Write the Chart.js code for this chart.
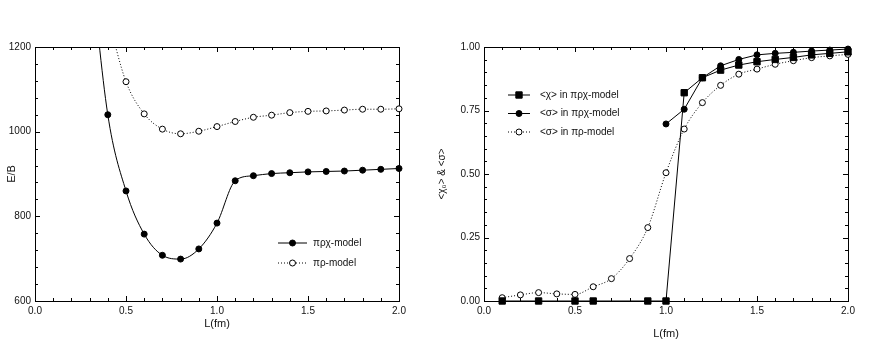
<!DOCTYPE html>
<html>
<head>
<meta charset="utf-8">
<script src="https://cdn.jsdelivr.net/npm/chart.js@4.4.0/dist/chart.umd.min.js"></script>
<style>
    html, body { margin: 0; padding: 0; background: #fff; }
    #wrap { position: relative; width: 872px; height: 345px; }
    #energyChart { position: absolute; left: 0; top: 0; }
    #condChart { position: absolute; left: 436px; top: 0; }
</style>
</head>
<body>
<div id="wrap">
    <canvas id="energyChart" width="436" height="345"></canvas>
    <canvas id="condChart" width="436" height="345"></canvas>
</div>
<script>
// ---- left panel: E/B vs L ----
const L_PRCHI = [0.3, 0.4, 0.5, 0.6, 0.7, 0.8, 0.9, 1.0, 1.1, 1.2, 1.3, 1.4, 1.5, 1.6, 1.7, 1.8, 1.9, 2.0];
const E_PRCHI = [1420, 1040, 860, 758, 708, 699, 723, 784, 884, 896, 901, 903, 905, 906, 907, 909, 911, 913];
const L_PR = [0.4, 0.5, 0.6, 0.7, 0.8, 0.9, 1.0, 1.1, 1.2, 1.3, 1.4, 1.5, 1.6, 1.7, 1.8, 1.9, 2.0];
const E_PR = [1270, 1118, 1042, 1006, 995, 1001, 1012, 1024, 1034, 1039, 1045, 1048, 1049, 1051, 1053, 1053, 1054];

// ---- right panel: condensates vs L ----
const L_CHI = [0.1, 0.3, 0.5, 0.6, 0.9, 1.0, 1.1, 1.2, 1.3, 1.4, 1.5, 1.6, 1.7, 1.8, 1.9, 2.0];
const CHI = [0, 0, 0, 0, 0, 0, 0.82, 0.879, 0.909, 0.929, 0.942, 0.951, 0.959, 0.969, 0.975, 0.981];
const L_SIG = [1.0, 1.1, 1.2, 1.3, 1.4, 1.5, 1.6, 1.7, 1.8, 1.9, 2.0];
const SIG = [0.697, 0.755, 0.879, 0.926, 0.951, 0.969, 0.975, 0.979, 0.984, 0.988, 0.992];
const L_SIG_PR = [0.1, 0.2, 0.3, 0.4, 0.5, 0.6, 0.7, 0.8, 0.9, 1.0, 1.1, 1.2, 1.3, 1.4, 1.5, 1.6, 1.7, 1.8, 1.9, 2.0];
const SIG_PR = [0.013, 0.024, 0.033, 0.028, 0.026, 0.056, 0.088, 0.167, 0.289, 0.505, 0.677, 0.781, 0.849, 0.893, 0.913, 0.932, 0.946, 0.958, 0.965, 0.971];

const X_TICKS = ['0.0', '0.5', '1.0', '1.5', '2.0'];
const E_TICKS = ['600', '800', '1000', '1200'];
const C_TICKS = ['0.00', '0.25', '0.50', '0.75', '1.00'];

Chart.defaults.font.family = '"Liberation Sans", Arial, sans-serif';
Chart.defaults.font.size = 10;
Chart.defaults.color = '#111';
Chart.defaults.animation = false;

function pts(xs, ys) {
    return xs.map((x, i) => ({ x: x, y: ys[i] }));
}

function onStep(v, step) {
    const q = v / step;
    return Math.abs(q - Math.round(q)) < 1e-6;
}

// box round the plot area, with small ticks pointing inwards on every side
const frameTicks = {
    id: 'frameTicks',
    beforeDatasetsDraw(chart, args, opts) {
        const { ctx, chartArea: a, scales: { x, y } } = chart;
        ctx.save();
        ctx.lineWidth = 1;
        ctx.strokeStyle = '#000';
        ctx.strokeRect(a.left + 0.5, a.top + 0.5, a.right - a.left, a.bottom - a.top);
        ctx.beginPath();
        x.ticks.forEach(t => {
            const px = Math.round(x.getPixelForValue(t.value)) + 0.5;
            const len = onStep(t.value, opts.xMajor) ? 5 : 3;
            ctx.moveTo(px, a.bottom); ctx.lineTo(px, a.bottom - len);
            ctx.moveTo(px, a.top); ctx.lineTo(px, a.top + len);
        });
        y.ticks.forEach(t => {
            const py = Math.round(y.getPixelForValue(t.value)) + 0.5;
            const len = onStep(t.value, opts.yMajor) ? 5 : 3;
            ctx.moveTo(a.left, py); ctx.lineTo(a.left + len, py);
            ctx.moveTo(a.right, py); ctx.lineTo(a.right - len, py);
        });
        ctx.stroke();
        ctx.restore();
    }
};

// legend drawn inside the plot: line sample with its marker, then the label
const lineLegend = {
    id: 'lineLegend',
    afterDraw(chart, args, opts) {
        const ctx = chart.ctx;
        ctx.save();
        chart.data.datasets.forEach((ds, i) => {
            const yy = opts.y + i * opts.gap;
            ctx.beginPath();
            ctx.setLineDash(ds.borderDash || []);
            ctx.strokeStyle = ds.borderColor;
            ctx.lineWidth = ds.borderWidth;
            ctx.moveTo(opts.x, yy);
            ctx.lineTo(opts.x + opts.lineLength, yy);
            ctx.stroke();
            ctx.setLineDash([]);
            ctx.fillStyle = ds.pointBackgroundColor;
            ctx.strokeStyle = ds.pointBorderColor;
            ctx.lineWidth = 1;
            Chart.helpers.drawPoint(ctx, {
                pointStyle: ds.pointStyle,
                radius: ds.pointRadius,
                rotation: 0,
                borderWidth: 1
            }, opts.x + opts.lineLength / 2, yy);
            ctx.fillStyle = '#111';
            ctx.font = '10px "Liberation Sans", Arial, sans-serif';
            ctx.textBaseline = 'middle';
            ctx.fillText(ds.label, opts.x + opts.textOffset, yy);
        });
        ctx.restore();
    }
};

function xScale(titlePad) {
    return {
        type: 'linear',
        min: 0,
        max: 2,
        grid: { display: false, drawTicks: false },
        border: { display: false },
        ticks: {
            stepSize: 0.1,
            autoSkip: false,
            maxRotation: 0,
            padding: 4,
            callback: v => onStep(v, 0.5) ? X_TICKS[Math.round(v / 0.5)] : ''
        },
        title: { display: true, text: 'L(fm)', padding: { top: 0, bottom: titlePad }, font: { size: 11 } },
        afterFit: s => { s.height = 44; }
    };
}

new Chart(document.getElementById('energyChart'), {
    type: 'line',
    data: {
        datasets: [{
            label: 'πρχ-model',
            data: pts(L_PRCHI, E_PRCHI),
            borderColor: '#000',
            borderWidth: 1,
            cubicInterpolationMode: 'monotone',
            pointStyle: 'circle',
            pointRadius: 3,
            pointBackgroundColor: '#000',
            pointBorderColor: '#000',
            clip: { left: 6, right: 6, top: 0, bottom: 6 }
        }, {
            label: 'πρ-model',
            data: pts(L_PR, E_PR),
            borderColor: '#000',
            borderWidth: 1,
            borderDash: [1, 2],
            cubicInterpolationMode: 'monotone',
            pointStyle: 'circle',
            pointRadius: 3,
            pointBackgroundColor: '#fff',
            pointBorderColor: '#000',
            clip: { left: 6, right: 6, top: 0, bottom: 6 }
        }]
    },
    options: {
        responsive: false,
        layout: { padding: { top: 47, right: 37, left: 0, bottom: 0 } },
        plugins: {
            legend: { display: false },
            tooltip: { enabled: false },
            frameTicks: { xMajor: 0.5, yMajor: 200 },
            lineLegend: { x: 278, y: 243, gap: 20, lineLength: 29, textOffset: 35 }
        },
        scales: {
            x: xScale(14),
            y: {
                type: 'linear',
                min: 600,
                max: 1200,
                grid: { display: false, drawTicks: false },
                border: { display: false },
                ticks: {
                    stepSize: 40,
                    autoSkip: false,
                    padding: 4,
                    callback: v => onStep(v, 200) ? E_TICKS[Math.round((v - 600) / 200)] : ''
                },
                title: { display: true, text: 'E/B', padding: { top: 5, bottom: 0 }, font: { size: 11 } },
                afterFit: s => { s.width = 35; }
            }
        }
    },
    plugins: [frameTicks, lineLegend]
});

new Chart(document.getElementById('condChart'), {
    type: 'line',
    data: {
        datasets: [{
            label: '<χ> in πρχ-model',
            data: pts(L_CHI, CHI),
            borderColor: '#000',
            borderWidth: 1,
            tension: 0,
            pointStyle: 'rect',
            pointRadius: 4.5,
            pointBackgroundColor: '#000',
            pointBorderColor: '#000',
            clip: 8
        }, {
            label: '<σ> in πρχ-model',
            data: pts(L_SIG, SIG),
            borderColor: '#000',
            borderWidth: 1,
            tension: 0,
            pointStyle: 'circle',
            pointRadius: 3,
            pointBackgroundColor: '#000',
            pointBorderColor: '#000',
            clip: 8
        }, {
            label: '<σ> in πρ-model',
            data: pts(L_SIG_PR, SIG_PR),
            borderColor: '#000',
            borderWidth: 1,
            borderDash: [1, 2],
            cubicInterpolationMode: 'monotone',
            pointStyle: 'circle',
            pointRadius: 3,
            pointBackgroundColor: '#fff',
            pointBorderColor: '#000',
            clip: 8
        }]
    },
    options: {
        responsive: false,
        layout: { padding: { top: 47, right: 24, left: 0, bottom: 0 } },
        plugins: {
            legend: { display: false },
            tooltip: { enabled: false },
            frameTicks: { xMajor: 0.5, yMajor: 0.25 },
            lineLegend: { x: 72, y: 95, gap: 18.5, lineLength: 22, textOffset: 32 }
        },
        scales: {
            x: xScale(4),
            y: {
                type: 'linear',
                min: 0,
                max: 1,
                grid: { display: false, drawTicks: false },
                border: { display: false },
                ticks: {
                    stepSize: 0.05,
                    autoSkip: false,
                    padding: 4,
                    callback: v => onStep(v, 0.25) ? C_TICKS[Math.round(v / 0.25)] : ''
                },
                title: { display: true, text: '<χ₀> & <σ>', padding: { top: 0, bottom: 0 }, font: { size: 10 } },
                afterFit: s => { s.width = 48; }
            }
        }
    },
    plugins: [frameTicks, lineLegend]
});
</script>
</body>
</html>
